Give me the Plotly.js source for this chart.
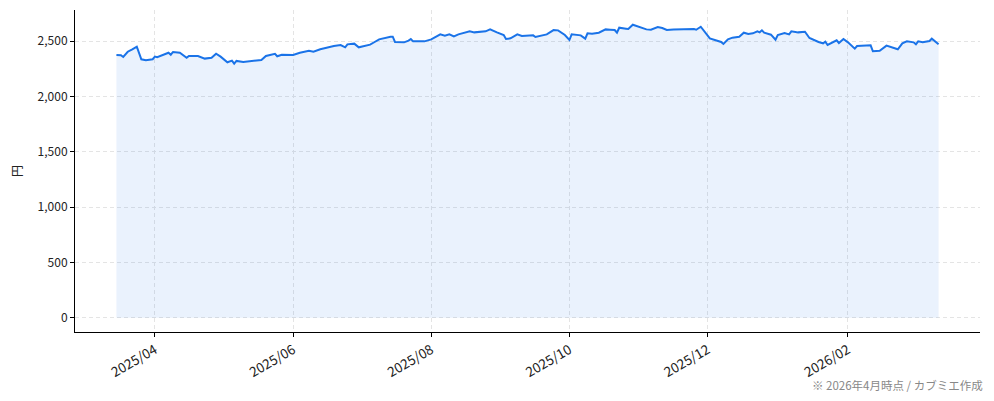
<!DOCTYPE html>
<html>
<head>
<meta charset="utf-8">
<script src="https://cdn.plot.ly/plotly-3.0.1.min.js"></script>
<style>html,body{margin:0;padding:0;background:#fff;}#chart{width:994px;height:401px;}</style>
</head>
<body>
<div id="chart"></div>
<script>
const dates = [
"2025-03-15","2025-03-17","2025-03-18","2025-03-20","2025-03-22","2025-03-24","2025-03-26","2025-03-28","2025-03-31",
"2025-04-01","2025-04-02","2025-04-06","2025-04-07","2025-04-08","2025-04-09","2025-04-12","2025-04-15","2025-04-16","2025-04-20","2025-04-23","2025-04-26","2025-04-28","2025-04-30",
"2025-05-03","2025-05-05","2025-05-06","2025-05-07","2025-05-10","2025-05-14","2025-05-18","2025-05-20","2025-05-23","2025-05-24","2025-05-25","2025-05-27",
"2025-06-01","2025-06-04","2025-06-08","2025-06-10","2025-06-13","2025-06-16","2025-06-19","2025-06-22","2025-06-24","2025-06-25","2025-06-28","2025-06-30",
"2025-07-02","2025-07-05","2025-07-07","2025-07-09","2025-07-14","2025-07-15","2025-07-16","2025-07-20","2025-07-22","2025-07-23","2025-07-24","2025-07-29",
"2025-08-01","2025-08-03","2025-08-05","2025-08-07","2025-08-09","2025-08-11","2025-08-13","2025-08-18","2025-08-20","2025-08-25","2025-08-27","2025-08-30",
"2025-09-02","2025-09-03","2025-09-05","2025-09-08","2025-09-10","2025-09-15","2025-09-16","2025-09-21","2025-09-24","2025-09-26","2025-09-29",
"2025-10-01","2025-10-02","2025-10-06","2025-10-08","2025-10-09","2025-10-11","2025-10-14","2025-10-17","2025-10-19","2025-10-21","2025-10-22","2025-10-23","2025-10-26","2025-10-27","2025-10-29",
"2025-11-01","2025-11-04","2025-11-06","2025-11-09","2025-11-11","2025-11-13","2025-11-16","2025-11-19","2025-11-23","2025-11-25","2025-11-26","2025-11-28",
"2025-12-02","2025-12-05","2025-12-07","2025-12-08","2025-12-10","2025-12-12","2025-12-15","2025-12-17","2025-12-19","2025-12-21","2025-12-23","2025-12-24","2025-12-25","2025-12-26","2025-12-29","2025-12-31",
"2026-01-01","2026-01-04","2026-01-06","2026-01-07","2026-01-10","2026-01-13","2026-01-15","2026-01-19","2026-01-21","2026-01-22","2026-01-23","2026-01-27","2026-01-28","2026-01-30",
"2026-02-01","2026-02-04","2026-02-05","2026-02-11","2026-02-12","2026-02-15","2026-02-18","2026-02-23","2026-02-25","2026-02-27",
"2026-03-02","2026-03-03","2026-03-04","2026-03-06","2026-03-09","2026-03-10","2026-03-12","2026-03-13"
];
const prices = [
2374,2372,2356,2403,2425,2449,2335,2326,2335,
2359,2353,2383,2394,2376,2401,2394,2349,2365,2365,2341,2349,2385,2359,
2308,2323,2296,2320,2311,2320,2329,2365,2383,2385,2362,2376,
2374,2394,2412,2403,2425,2443,2455,2464,2443,2470,2476,2443,
2455,2467,2491,2515,2539,2539,2491,2488,2503,2518,2497,2497,
2515,2539,2560,2548,2560,2542,2560,2587,2578,2587,2605,2578,
2554,2518,2524,2560,2545,2551,2536,2560,2599,2596,2554,
2509,2560,2551,2521,2569,2566,2575,2605,2602,2599,2575,2620,2611,2608,2647,
2629,2605,2602,2626,2617,2599,2605,2608,2611,2608,2602,2629,
2524,2506,2491,2473,2515,2530,2539,2575,2563,2569,2587,2578,2596,2575,2557,2512,
2554,2572,2560,2587,2578,2584,2527,2491,2479,2494,2464,2506,2482,2518,
2488,2431,2455,2461,2407,2412,2458,2425,2479,2497,
2488,2470,2497,2488,2500,2521,2485,2470
];
const yTicks = [0,500,1000,1500,2000,2500];
const yLabel = "円";
const note = "※ 2026年4月時点 / カブミエ作成";

const font = "'Noto Sans CJK JP', 'Noto Sans', sans-serif";
const trace = {
  x: dates, y: prices, type: 'scatter', mode: 'lines',
  line: {color: '#1a73e8', width: 2},
  fill: 'tozeroy', fillcolor: 'rgba(26,115,232,0.09)',
  hoverinfo: 'x+y'
};
const layout = {
  width: 994, height: 401,
  margin: {l: 75, r: 14, t: 10, b: 69},
  paper_bgcolor: '#fff', plot_bgcolor: '#fff',
  showlegend: false,
  font: {family: font, size: 12, color: '#222'},
  xaxis: {
    type: 'date',
    range: ['2025-02-24 17:00', '2026-03-31 07:00'],
    tick0: '2025-04-01', dtick: 'M2', tickformat: '%Y/%m',
    tickangle: -30,
    ticks: 'outside', ticklen: 4, tickcolor: '#000', tickwidth: 1,
    showline: true, linecolor: '#000', linewidth: 1, mirror: false,
    showgrid: true, gridcolor: '#e4e4e4', griddash: '4px,3px', gridwidth: 1,
    zeroline: false,
    tickfont: {family: font, size: 13.5, color: '#222'}
  },
  yaxis: {
    range: [-128, 2780],
    tickvals: yTicks, tickformat: ',d',
    ticks: 'outside', ticklen: 4, tickcolor: '#000', tickwidth: 1,
    showline: true, linecolor: '#000', linewidth: 1,
    showgrid: true, gridcolor: '#e4e4e4', griddash: '4px,3px', gridwidth: 1,
    zeroline: false,
    title: {text: yLabel, font: {family: font, size: 12, color: '#222'}, standoff: 12},
    tickfont: {family: font, size: 12, color: '#222'}
  },
  annotations: [{
    text: note, xref: 'paper', yref: 'paper', x: 1.006, y: -0.165,
    xanchor: 'right', yanchor: 'middle', showarrow: false,
    font: {family: font, size: 11.5, color: '#888'}
  }]
};
Plotly.newPlot('chart', [trace], layout, {displayModeBar: false, staticPlot: true});
</script>
</body>
</html>
